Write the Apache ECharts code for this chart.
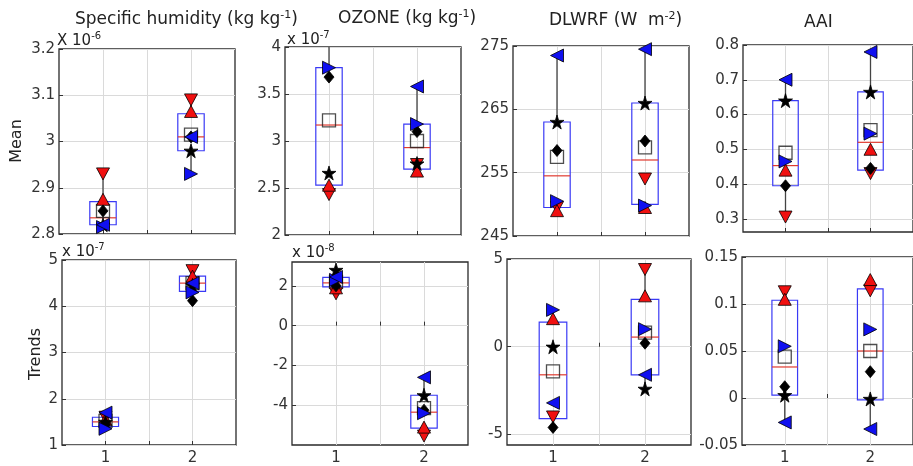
<!DOCTYPE html>
<html><head><meta charset="utf-8">
<script src="https://cdn.jsdelivr.net/npm/echarts@6/dist/echarts.min.js"></script>
<style>html,body{margin:0;padding:0;background:#fff}#c{width:913px;height:466px}</style>
</head><body><div id="c"></div>
<script>
// ---------- DATA (panels: 0 SH mean, 1 O3 mean, 2 DLWRF mean, 3 AAI mean, 4 SH trend, 5 O3 trend, 6 DLWRF trend, 7 AAI trend) ----------
const panelTitles = ['Specific humidity (kg kg{s|-1})', 'OZONE (kg kg{s|-1})', 'DLWRF (W  m{s|-2})', 'AAI'];
const rowLabels = ['Mean', 'Trends'];
const exponents = ['-6', '-7', null, null, '-7', '-8', null, null];
const groups = [1, 2];
const xTickLabels = ['1', '2'];
const xGridValues = [1, 1.5, 2];

const yMin = [2.8, 2, 245, 0.262, 1, -6, -5.6, -0.05];
const yMax = [3.2, 4, 275, 0.8, 5, 3.2, 5, 0.15];
const yTicks = [
  [2.8, 2.9, 3, 3.1, 3.2],
  [2, 2.5, 3, 3.5, 4],
  [245, 255, 265, 275],
  [0.3, 0.4, 0.5, 0.6, 0.7, 0.8],
  [1, 2, 3, 4, 5],
  [-4, -2, 0, 2],
  [-5, 0, 5],
  [-0.05, 0, 0.05, 0.1, 0.15]
];

// model values per panel: [group1, group2]
const blueLeftTri = [[2.82, 3.01], [4.3, 3.58], [273.5, 274.5], [0.70, 0.78], [1.7, 4.5], [2.45, -2.6], [-3.2, -1.6], [-0.026, -0.033]];
const blackStar   = [[2.82, 2.98], [2.66, 2.76], [263, 266], [0.64, 0.665], [1.5, 4.45], [2.8, -3.5], [0.0, -2.4], [0.003, -0.001]];
const blackDiam   = [[2.85, 3.01], [3.68, 3.1], [258.5, 260], [0.395, 0.445], [1.45, 4.12], [2.0, -4.25], [-4.6, 0.2], [0.012, 0.028]];
const redDownTri  = [[2.93, 3.09], [2.43, 2.75], [249.5, 254], [0.305, 0.43], [1.6, 4.77], [1.6, -5.55], [-4.0, 4.4], [0.113, 0.114]];
const redUpTri    = [[2.875, 3.065], [2.53, 2.68], [249, 249.5], [0.44, 0.50], [1.55, 4.65], [1.9, -5.1], [1.6, 2.9], [0.105, 0.126]];
const blueRightTri= [[2.815, 2.93], [3.78, 3.18], [250.5, 249.8], [0.465, 0.545], [1.35, 4.3], [2.3, -4.4], [2.1, 1.0], [0.055, 0.073]];

// box statistics per panel: [group1, group2]
const boxQ1     = [[2.82, 2.98], [2.53, 2.7], [249.5, 250], [0.395, 0.44], [1.4, 4.32], [1.95, -5.15], [-4.1, -1.6], [0.003, -0.002]];
const boxMedian = [[2.835, 3.01], [3.17, 2.93], [254.5, 257], [0.453, 0.52], [1.5, 4.5], [2.15, -4.35], [-1.6, 0.55], [0.033, 0.05]];
const boxQ3     = [[2.87, 3.06], [3.78, 3.18], [263, 266], [0.64, 0.665], [1.6, 4.65], [2.43, -3.5], [1.4, 2.7], [0.104, 0.116]];
const boxMean   = [[2.85, 3.015], [3.22, 3.0], [257.5, 259], [0.49, 0.555], [1.52, 4.5], [2.2, -4.15], [-1.4, 0.8], [0.044, 0.05]];
const whiskLo   = [[2.81, 2.93], [2.43, 2.68], [249, 249.5], [0.305, 0.43], [1.35, 4.12], [1.6, -5.55], [-4.6, -2.4], [-0.026, -0.033]];
const whiskHi   = [[2.93, 3.09], [4.3, 3.58], [273.5, 274.5], [0.70, 0.78], [1.7, 4.77], [2.8, -2.6], [2.1, 4.4], [0.113, 0.126]];

// ---------- LAYOUT / STYLE ----------
const FONT = 'DejaVu Sans';
const RED = '#f01010', BLUE = '#1010f0';
const gridBoxes = [
  {left: 59, top: 49, width: 176, height: 185},
  {left: 285, top: 47, width: 176, height: 188},
  {left: 513, top: 46, width: 176, height: 190},
  {left: 743, top: 45, width: 172, height: 187},
  {left: 62, top: 260, width: 174, height: 187},
  {left: 292, top: 262, width: 176, height: 187},
  {left: 507, top: 259, width: 184, height: 188},
  {left: 742, top: 257, width: 176, height: 188}
];
const SYM = {
  up: 'path://M0,10 L5,0 L10,10 Z',
  down: 'path://M0,0 L10,0 L5,10 Z',
  left: 'path://M10,0 L10,10 L0,5 Z',
  right: 'path://M0,0 L10,5 L0,10 Z',
  star: 'path://M50,0 L61,35 L98,35 L68,57 L79,91 L50,70 L21,91 L32,57 L2,35 L39,35 Z'
};
const markerDefs = [
  {vals: redDownTri, symbol: SYM.down, color: RED, size: [13, 12]},
  {vals: redUpTri, symbol: SYM.up, color: RED, size: [13, 12]},
  {vals: blackDiam, symbol: 'diamond', color: '#000', size: [10, 12]},
  {vals: blackStar, symbol: SYM.star, color: '#000', size: 14},
  {vals: blueRightTri, symbol: SYM.right, color: BLUE, size: [13, 13]},
  {vals: blueLeftTri, symbol: SYM.left, color: BLUE, size: [13, 13]}
];

const grid = gridBoxes.map(g => Object.assign({}, g, {
  show: true, borderColor: '#2a2a2a', borderWidth: 1.3, backgroundColor: '#fff', containLabel: false
}));
const xAxis = gridBoxes.map((g, i) => ({
  type: 'value', gridIndex: i, min: 0.5, max: 2.5,
  axisLine: {show: false},
  axisTick: {show: true, inside: true, length: 4, customValues: xGridValues, lineStyle: {color: '#333'}},
  axisLabel: {show: i >= 4, customValues: groups, margin: 6, color: '#333', fontFamily: FONT, fontSize: 15,
    formatter: v => xTickLabels[groups.indexOf(v)]},
  splitLine: {show: true, lineStyle: {color: '#dadada', width: 1}}
}));
const yAxis = gridBoxes.map((g, i) => ({
  type: 'value', gridIndex: i, min: yMin[i], max: yMax[i],
  axisLine: {show: false},
  axisTick: {show: true, inside: true, length: 4, customValues: yTicks[i], lineStyle: {color: '#333'}},
  axisLabel: {customValues: yTicks[i], margin: 4, color: '#333', fontFamily: FONT, fontSize: 15},
  splitLine: {show: true, lineStyle: {color: '#dadada', width: 1}}
}));

const series = [];
for (let p = 0; p < 8; p++) {
  // whiskers
  series.push({
    type: 'custom', xAxisIndex: p, yAxisIndex: p, clip: true, z: 2,
    data: groups.map((x, k) => [x, whiskLo[p][k], boxQ1[p][k], boxQ3[p][k], whiskHi[p][k]]),
    renderItem: (params, api) => {
      const x = api.value(0);
      const a = api.coord([x, api.value(1)]), b = api.coord([x, api.value(2)]);
      const c = api.coord([x, api.value(3)]), d = api.coord([x, api.value(4)]);
      const st = {stroke: '#444', lineWidth: 1.3};
      return {type: 'group', children: [
        {type: 'line', shape: {x1: a[0], y1: a[1], x2: b[0], y2: b[1]}, style: st},
        {type: 'line', shape: {x1: c[0], y1: c[1], x2: d[0], y2: d[1]}, style: st}
      ]};
    }
  });
  // boxes + medians
  series.push({
    type: 'custom', xAxisIndex: p, yAxisIndex: p, clip: true, z: 3,
    data: groups.map((x, k) => [x, boxQ1[p][k], boxQ3[p][k], boxMedian[p][k]]),
    renderItem: (params, api) => {
      const x = api.value(0);
      const lo = api.coord([x - 0.15, api.value(1)]);
      const hi = api.coord([x + 0.15, api.value(2)]);
      const md = api.coord([x - 0.15, api.value(3)]);
      return {type: 'group', children: [
        {type: 'rect', shape: {x: lo[0], y: hi[1], width: hi[0] - lo[0], height: lo[1] - hi[1]},
          style: {fill: 'none', stroke: '#3a3af5', lineWidth: 1.2}},
        {type: 'line', shape: {x1: lo[0], y1: md[1], x2: hi[0], y2: md[1]},
          style: {stroke: '#e03a30', lineWidth: 1.2}}
      ]};
    }
  });
  // mean squares
  series.push({
    type: 'scatter', xAxisIndex: p, yAxisIndex: p, z: 4, clip: true,
    symbol: 'rect', symbolSize: 13,
    itemStyle: {color: 'rgba(0,0,0,0)', borderColor: '#222', borderWidth: 1.3},
    data: groups.map((x, k) => [x, boxMean[p][k]])
  });
  // model markers
  markerDefs.forEach((m, j) => {
    series.push({
      type: 'scatter', xAxisIndex: p, yAxisIndex: p, z: 5 + j, clip: true,
      symbol: m.symbol, symbolSize: m.size,
      itemStyle: {color: m.color, borderColor: '#000', borderWidth: 0.8, opacity: 1},
      data: groups.map((x, k) => [x, m.vals[p][k]])
    });
  });
}

const txt = (x, y, text, size, extra) => ({
  type: 'text', x, y, z: 100,
  style: Object.assign({text, fill: '#222', font: size + 'px "' + FONT + '"', textVerticalAlign: 'middle',
    rich: {s: {fontSize: Math.round(size * 0.65), fontFamily: FONT, fill: '#222', padding: [0, 0, Math.round(size * 0.6), 0]}}}, extra || {})
});
const graphic = [
  txt(75, 20, panelTitles[0], 17),
  txt(338, 19, panelTitles[1], 17),
  txt(549, 21, panelTitles[2], 17),
  txt(804, 23, panelTitles[3], 17),
  txt(17, 141, rowLabels[0], 16, {textAlign: 'center'}),
  txt(36, 354, rowLabels[1], 16, {textAlign: 'center'})
];
graphic[4].rotation = Math.PI / 2;
graphic[5].rotation = Math.PI / 2;
const expPos = [[57, 41], [287, 40], null, null, [62, 252], [292, 253], null, null];
exponents.forEach((e, i) => {
  if (e) graphic.push(txt(expPos[i][0], expPos[i][1], (i === 0 ? 'X' : 'x') + ' 10{s|' + e + '}', 15));
});

const chart = echarts.init(document.getElementById('c'));
chart.setOption({
  animation: false,
  backgroundColor: '#fff',
  grid, xAxis, yAxis, series, graphic
});
</script>
</body></html>
